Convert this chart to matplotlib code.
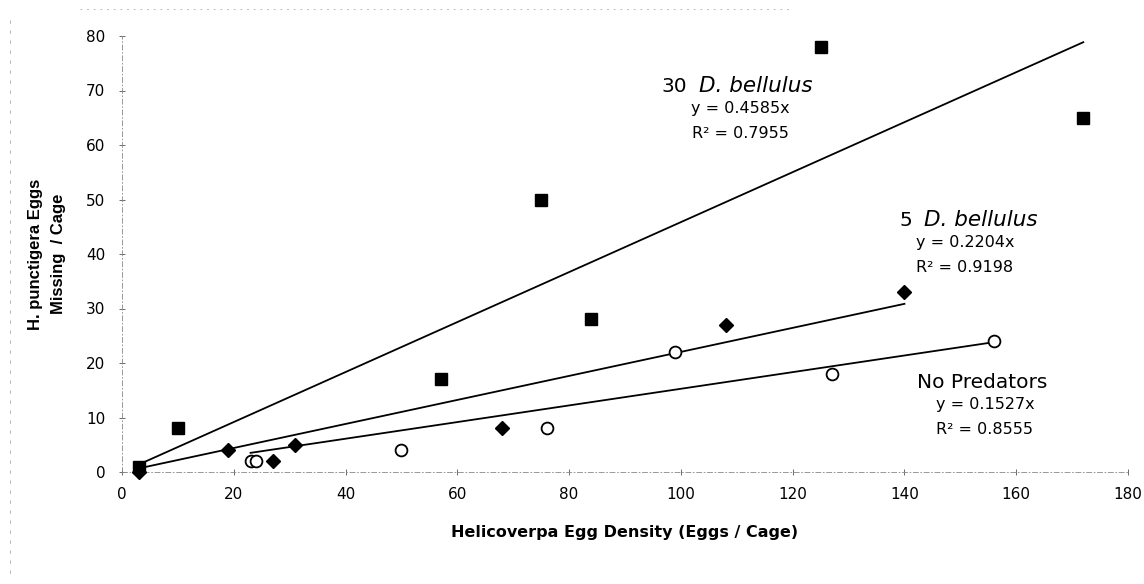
import numpy as np
import matplotlib
matplotlib.use('Agg')
import matplotlib.pyplot as plt
from matplotlib.lines import Line2D

plt.rcParams['font.family'] = ['DejaVu Sans']

# eggs offered / eggs missing per cage, by predator treatment
x_30 = [3, 10, 57, 75, 84, 125, 172]
y_30 = [1, 8, 17, 50, 28, 78, 65]
x_5 = [3, 19, 27, 31, 68, 108, 140]
y_5 = [0, 4, 2, 5, 8, 27, 33]
x_none = [23, 24, 50, 76, 99, 127, 156]
y_none = [2, 2, 4, 8, 22, 18, 24]

# regression through origin
slope_30 = 0.4585
slope_5 = 0.2204
slope_none = 0.1527
r2_30 = 0.7955
r2_5 = 0.9198
r2_none = 0.8555

xticks = list(range(0, 181, 20))
yticks = list(range(0, 81, 10))

fig = plt.figure(figsize=(11.44, 5.84), dpi=100)
ax = fig.add_axes([122/1144, 1 - 472/584, 1006/1144, 436/584])

def trend(x, slope):
    xx = np.array([min(x), max(x)], dtype=float)
    ax.plot(xx, slope*xx, color='k', lw=1.3, zorder=2)

trend(x_30, slope_30)
trend(x_5, slope_5)
trend(x_none, slope_none)

ax.plot(x_30, y_30, 's', color='k', ms=9, zorder=3, clip_on=False)
ax.plot(x_5, y_5, 'D', color='k', ms=7.5, zorder=3, clip_on=False)
ax.plot(x_none, y_none, 'o', mfc='w', mec='k', mew=1.3, ms=8.5, zorder=3, clip_on=False)

ax.set_xlim(0, 180)
ax.set_ylim(0, 80)
ax.set_xticks(xticks)
ax.set_yticks(yticks)
ax.tick_params(labelsize=11, colors='#555555', labelcolor='k', direction='inout',
               length=4, width=0.6)
ax.tick_params(axis='x', pad=9)
ax.tick_params(axis='y', pad=10)
for side in ['top', 'right']:
    ax.spines[side].set_visible(False)
for side in ['left', 'bottom']:
    ax.spines[side].set_linestyle((0, (6, 3, 1, 3)))
    ax.spines[side].set_linewidth(0.6)
    ax.spines[side].set_color('#888888')

ax.set_xlabel('Helicoverpa Egg Density (Eggs / Cage)', fontsize=11.5,
              fontweight='bold', labelpad=16)
fig.text(47/1144, 1 - 254/584, 'H. punctigera Eggs\nMissing  / Cage', fontsize=12,
         family='Liberation Sans', fontweight='bold', rotation=90, ha='center',
         va='center', linespacing=1.7)

# equation labels, placed in pixels
def label(px, py, count, slope, r2):
    x, y = px, 584 - py
    if count is None:
        ax.text(x, y, 'No Predators', fontsize=14.5, ha='center', va='center',
                transform=None)
    else:
        ax.text(x - 50, y, f'{count}', fontsize=14.5, ha='right', va='center',
                transform=None)
        ax.text(x - 38, y, 'D. bellulus', fontsize=15.5, style='italic', ha='left',
                va='center', transform=None)
    ax.text(x + 3, y - 22, f'y = {slope:.4f}x', fontsize=11.5, ha='center',
            va='center', transform=None)
    ax.text(x + 3, y - 47, f'R² = {r2:.4f}', fontsize=11.5, ha='center',
            va='center', transform=None)

label(737, 86, 30, slope_30, r2_30)
label(962, 220, 5, slope_5, r2_5)
label(982, 383, None, slope_none, r2_none)

# faint scan edges
fig.add_artist(Line2D([80/1144, 790/1144], [1 - 9/584, 1 - 9/584], color='#aaaaaa',
                      lw=0.6, ls=(0, (2, 6))))
fig.add_artist(Line2D([10/1144, 10/1144], [1 - 20/584, 1 - 580/584], color='#aaaaaa',
                      lw=0.6, ls=(0, (4, 8))))

fig.savefig('out.png', dpi=100)
